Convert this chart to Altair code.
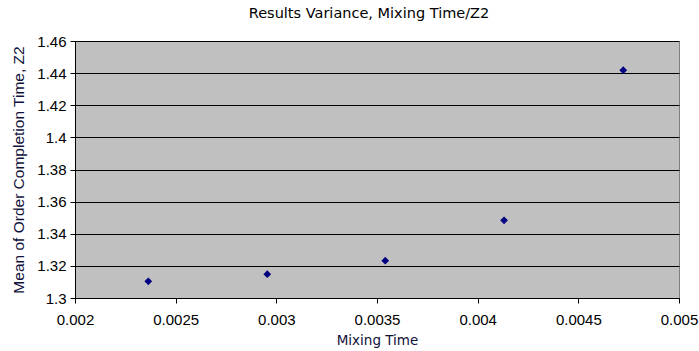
import altair as alt
import pandas as pd

mixing_time = [0.002364, 0.002955, 0.003541, 0.004131, 0.004723]
mean_z2 = [1.3104, 1.3148, 1.3232, 1.3484, 1.4418]
x_ticks = [0.002, 0.0025, 0.003, 0.0035, 0.004, 0.0045, 0.005]
y_ticks = [1.3, 1.32, 1.34, 1.36, 1.38, 1.4, 1.42, 1.44, 1.46]

df = pd.DataFrame({"mixing_time": mixing_time, "mean_z2": mean_z2})

title_font = "DejaVu Sans"
label_font = "Liberation Sans"

chart = alt.Chart(df).mark_point(
    shape="diamond", filled=True, color="#000080", size=60, opacity=1
).encode(
    x=alt.X(
        "mixing_time:Q",
        scale=alt.Scale(domain=[0.002, 0.005], nice=False, zero=False),
        axis=alt.Axis(
            values=x_ticks, labelExpr="format(datum.value, '~g')",
            title="Mixing Time", grid=False, tickSize=5, labelPadding=9,
            titlePadding=6, labelFlush=False, titleFont=title_font,
            titleFontSize=13.5, titleColor="#10103a",
        ),
    ),
    y=alt.Y(
        "mean_z2:Q",
        scale=alt.Scale(domain=[1.3, 1.46], nice=False, zero=False),
        axis=alt.Axis(
            values=y_ticks, labelExpr="format(datum.value, '~g')",
            title="Mean of Order Completion Time, Z2", grid=True,
            gridColor="black", gridOpacity=1, tickSize=5, labelPadding=4,
            titlePadding=10, labelFlush=False, titleFont=label_font,
            titleFontSize=15.5, titleColor="#10103a",
        ),
    ),
).properties(
    width=604, height=257,
    title=alt.TitleParams(
        "Results Variance, Mixing Time/Z2", font=title_font, fontSize=14.5,
        fontWeight="normal", color="#000000", offset=13, dx=-8,
    ),
    padding={"left": 75, "top": 41, "right": 20, "bottom": 53},
    autosize="none",
).configure_view(
    fill="#C0C0C0", stroke="#808080", strokeWidth=1
).configure_axis(
    domainColor="black", tickColor="black", labelColor="black",
    labelFont=label_font, labelFontSize=15,
    titleFontWeight="normal",
    domainOpacity=1, tickOpacity=1,
)

chart.save("out.html", embed_options={"renderer": "svg", "actions": False})
